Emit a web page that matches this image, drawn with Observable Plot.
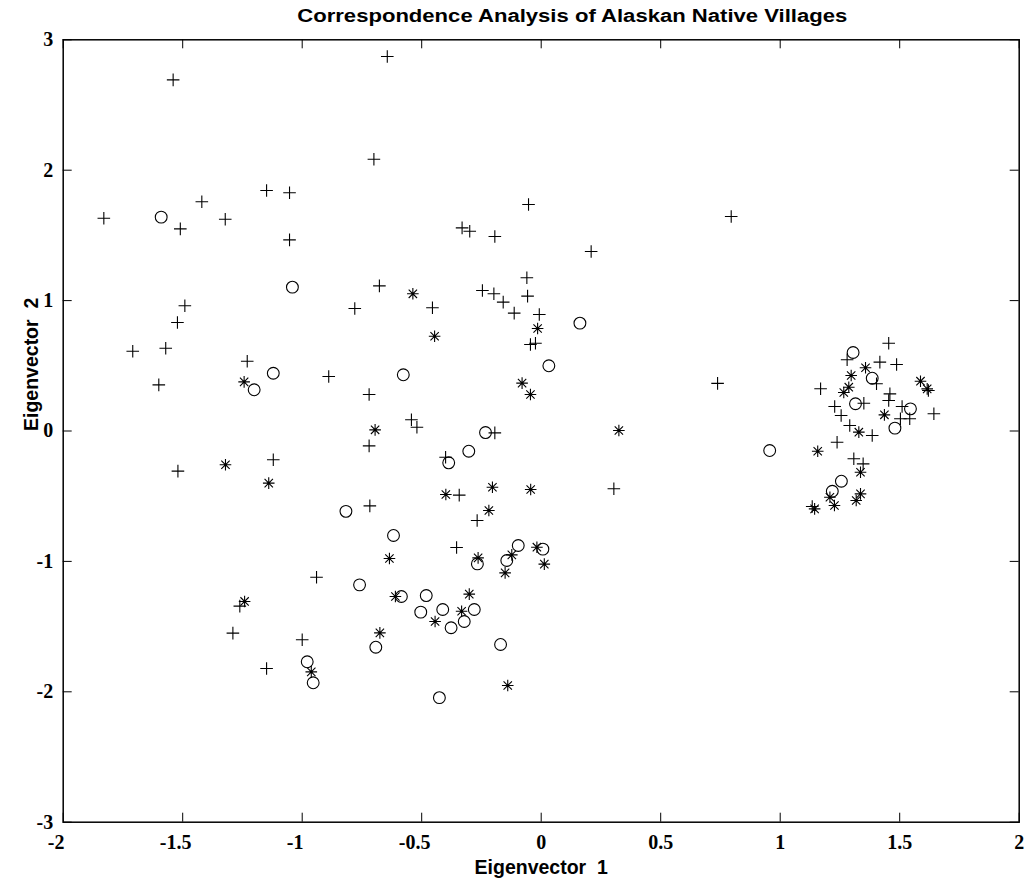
<!DOCTYPE html>
<html>
<head>
<meta charset="utf-8">
<script src="https://cdn.jsdelivr.net/npm/d3@7"></script>
<script src="https://cdn.jsdelivr.net/npm/@observablehq/plot@0.6"></script>
<style>
  html, body { margin: 0; padding: 0; background: white; overflow: hidden; }
  #wrap { position: relative; width: 1026px; height: 884px; }
  #title {
    position: absolute; left: 0; top: 0; width: 1026px; height: 30px; box-sizing: border-box;
    padding-top: 7px; padding-left: 118px; text-align: center;
    font-weight: bold; font-size: 18px; line-height: 18px; color: black; white-space: nowrap;
    z-index: 2;
  }
  #title span { display: inline-block; transform-origin: center; }
  svg text { white-space: pre; }
</style>
</head>
<body>
<div id="wrap">
<div id="title"><span>Correspondence Analysis of Alaskan Native Villages</span></div>
<div id="chart"></div>
</div>
<script>
// Group marked "+"
const plusPoints = [
  [-1.540, 2.693], [-0.644, 2.872], [-0.700, 2.084], [-1.149, 1.844], [-1.053, 1.827],
  [-1.420, 1.758], [-1.830, 1.632], [-1.510, 1.550], [-1.322, 1.624], [-1.053, 1.466],
  [-0.677, 1.113], [-1.491, 0.960], [-0.780, 0.939], [-1.522, 0.832], [-1.709, 0.612],
  [-1.571, 0.635], [-1.230, 0.535], [-1.600, 0.354], [-0.889, 0.418], [-0.720, 0.280],
  [-0.720, -0.114], [-1.520, -0.308], [-1.121, -0.221], [-0.717, -0.574], [-0.940, -1.121],
  [-1.261, -1.343], [-1.290, -1.550], [-1.000, -1.601], [-1.149, -1.821],
  [-0.053, 1.737], [-0.331, 1.558], [-0.299, 1.532], [-0.194, 1.492], [0.209, 1.377],
  [-0.060, 1.175], [-0.455, 0.945], [-0.246, 1.077], [-0.198, 1.052], [-0.159, 0.988],
  [-0.113, 0.904], [-0.057, 1.034], [-0.008, 0.893], [-0.045, 0.663], [-0.024, 0.673],
  [-0.543, 0.086], [-0.520, 0.029], [-0.194, -0.014], [-0.400, -0.201], [-0.343, -0.492],
  [0.304, -0.443], [-0.268, -0.686], [-0.354, -0.893], [0.795, 1.645], [0.738, 0.365],
  [1.454, 0.673], [1.280, 0.546], [1.417, 0.528], [1.487, 0.510], [1.403, 0.362],
  [1.620, 0.311], [1.169, 0.324], [1.350, 0.213], [1.228, 0.188], [1.255, 0.119],
  [1.459, 0.285], [1.454, 0.234], [1.510, 0.188], [1.503, 0.094], [1.542, 0.094],
  [1.643, 0.132], [1.291, 0.042], [1.385, -0.035], [1.238, -0.086], [1.308, -0.213],
  [1.347, -0.252], [1.134, -0.579]
];

// Group marked "o"
const circlePoints = [
  [-1.590, 1.640], [-1.041, 1.103], [-1.121, 0.443], [-1.201, 0.316], [-0.577, 0.431],
  [0.162, 0.827], [0.032, 0.500], [-0.233, -0.012], [-0.303, -0.155], [-0.387, -0.244],
  [-0.817, -0.616], [-0.618, -0.801], [-0.760, -1.180], [-0.585, -1.269], [-0.692, -1.658],
  [-0.979, -1.770], [-0.954, -1.931], [-0.481, -1.262], [-0.504, -1.389], [-0.412, -1.369],
  [-0.280, -1.369], [-0.377, -1.509], [-0.322, -1.461], [-0.170, -1.637], [-0.426, -2.045],
  [-0.267, -1.019], [-0.096, -0.878], [-0.144, -0.993], [0.007, -0.906], [0.956, -0.150],
  [1.305, 0.602], [1.385, 0.405], [1.315, 0.209], [1.545, 0.170], [1.480, 0.022],
  [1.256, -0.385], [1.218, -0.462]
];

// Group marked "*"
const starPoints = [
  [-1.243, 0.377], [-0.695, 0.009], [-1.321, -0.259], [-1.140, -0.400], [-0.635, -0.978],
  [-0.610, -1.269], [-1.241, -1.307], [-0.675, -1.548], [-0.962, -1.847], [-0.537, 1.052],
  [-0.015, 0.786], [-0.446, 0.727], [-0.080, 0.367], [-0.045, 0.280], [0.325, 0.004],
  [-0.399, -0.487], [-0.204, -0.431], [-0.044, -0.449], [-0.219, -0.610], [-0.264, -0.973],
  [-0.123, -0.950], [-0.151, -1.088], [-0.018, -0.891], [0.013, -1.021], [-0.301, -1.251],
  [-0.333, -1.382], [-0.444, -1.461], [-0.140, -1.952],
  [1.357, 0.485], [1.297, 0.426], [1.587, 0.382], [1.615, 0.323], [1.287, 0.336],
  [1.266, 0.295], [1.436, 0.124], [1.329, -0.009], [1.157, -0.155], [1.336, -0.316],
  [1.208, -0.508], [1.227, -0.571], [1.336, -0.482], [1.318, -0.533], [1.144, -0.597]
];

const xTicks = [-2, -1.5, -1, -0.5, 0, 0.5, 1, 1.5, 2];
const yTicks = [-3, -2, -1, 0, 1, 2, 3];
const xLabel = "Eigenvector  1";
const yLabel = "Eigenvector  2";

// font availability check (narrow sans like the reference)
function hasFont(name) {
  const c = document.createElement("canvas").getContext("2d");
  const s = "Eigenvector Villages 0123456789";
  c.font = "bold 20px monospace";
  const a = c.measureText(s).width;
  c.font = `bold 20px '${name}', monospace`;
  return Math.abs(c.measureText(s).width - a) > 0.5;
}
const narrow = hasFont("Liberation Sans Narrow");
const sansFamily = narrow ? "'Liberation Sans Narrow', 'Liberation Sans', Arial, sans-serif" : "'Liberation Sans', Arial, sans-serif";
document.getElementById("title").style.fontFamily = sansFamily;

// MATLAB-style marker shapes (r = half arm length)
const plusSymbol = {
  draw(ctx, size) {
    const r = Math.sqrt(size / Math.PI);
    ctx.moveTo(-r, 0); ctx.lineTo(r, 0);
    ctx.moveTo(0, -r); ctx.lineTo(0, r);
  }
};
const starSymbol = {
  draw(ctx, size) {
    const r = Math.sqrt(size / Math.PI);
    const d = r * 0.72;
    ctx.moveTo(-r, 0); ctx.lineTo(r, 0);
    ctx.moveTo(0, -r); ctx.lineTo(0, r);
    ctx.moveTo(-d, -d); ctx.lineTo(d, d);
    ctx.moveTo(-d, d); ctx.lineTo(d, -d);
  }
};

const W = 1026, H = 884;
const mL = 62.7, mR = 7.3, mT = 39.3, mB = 62.3;
const plotW = W - mL - mR, plotH = H - mT - mB;
const tickLen = 9;
const tickFont = {fontSize: 20, fontFamily: "'Liberation Serif', 'Times New Roman', serif", fontWeight: "bold"};
const labelFont = {fontSize: narrow ? 23 : 19.5, fontFamily: sansFamily, fontWeight: "bold"};
const fmt = d => String(d);

const chart = Plot.plot({
  width: W, height: H,
  marginLeft: mL, marginRight: mR, marginTop: mT, marginBottom: mB,
  style: {background: "white", color: "black"},
  x: {domain: [-2, 2], label: null},
  y: {domain: [-3, 3], label: null},
  marks: [
    // inward ticks on all four sides
    Plot.tickX(xTicks, {x: d => d, stroke: "black", strokeWidth: 1, insetTop: plotH - tickLen}),
    Plot.tickX(xTicks, {x: d => d, stroke: "black", strokeWidth: 1, insetBottom: plotH - tickLen}),
    Plot.tickY(yTicks, {y: d => d, stroke: "black", strokeWidth: 1, insetRight: plotW - tickLen}),
    Plot.tickY(yTicks, {y: d => d, stroke: "black", strokeWidth: 1, insetLeft: plotW - tickLen}),
    Plot.frame({stroke: "black", strokeWidth: 1.5}),
    // tick labels
    Plot.axisX(xTicks.filter(d => d < 0), {anchor: "bottom", tickSize: 0, tickPadding: 13, tickFormat: fmt, dx: -7, label: null, ...tickFont}),
    Plot.axisX(xTicks.filter(d => d >= 0), {anchor: "bottom", tickSize: 0, tickPadding: 13, tickFormat: fmt, label: null, ...tickFont}),
    Plot.axisY(yTicks, {anchor: "left", tickSize: 0, tickPadding: 10, tickFormat: fmt, label: null, ...tickFont}),
    // axis titles
    Plot.text([xLabel], {text: d => d, frameAnchor: "bottom", lineAnchor: "bottom", dy: 51.6, ...labelFont}),
    Plot.text([yLabel], {text: d => d, frameAnchor: "left", rotate: -90, lineAnchor: "bottom", dx: -25.7, ...labelFont}),
    // data
    Plot.dot(plusPoints, {x: d => d[0], y: d => d[1], symbol: plusSymbol, r: 6.3, stroke: "black", strokeWidth: 1.1}),
    Plot.dot(circlePoints, {x: d => d[0], y: d => d[1], symbol: "circle", r: 5.9, stroke: "black", strokeWidth: 1.1, fill: "none"}),
    Plot.dot(starPoints, {x: d => d[0], y: d => d[1], symbol: starSymbol, r: 5.8, stroke: "black", strokeWidth: 1.1})
  ]
});
document.getElementById("chart").appendChild(chart);

// stretch title to the reference width
const span = document.querySelector("#title span");
const w = span.getBoundingClientRect().width;
if (w > 0) span.style.transform = `scaleX(${550 / w})`;
</script>
</body>
</html>
